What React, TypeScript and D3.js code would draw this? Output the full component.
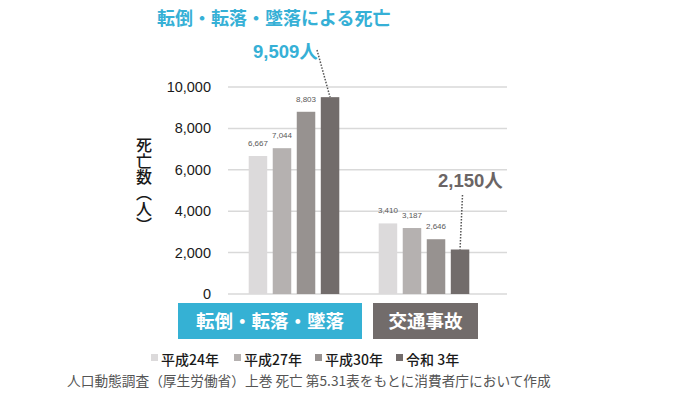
import React from 'react';
import * as d3 from 'd3';

const categories = ['転倒・転落・墜落', '交通事故'];
const years = ['平成24年', '平成27年', '平成30年', '令和 3年'];
const fallDeaths = [6667, 7044, 8803, 9509];
const trafficDeaths = [3410, 3187, 2646, 2150];
const yTicks = [0, 2000, 4000, 6000, 8000, 10000];
const barColors = ['#dcdadb', '#b5b1b0', '#979290', '#726c6b'];
const boxColors = ['#35b1d4', '#726c6b'];

const FONT = '"Liberation Sans", Arial, "Noto Sans CJK JP", sans-serif';
const JP = '"Noto Sans CJK JP", "Liberation Sans", sans-serif';

const App = () => {
  const width = 681;
  const height = 399;
  const series = [fallDeaths, trafficDeaths];

  const y = d3.scaleLinear().domain([0, 10000]).range([294, 87]);
  const x0 = d3.scaleBand().domain(categories).range([229, 489]);
  const x1 = d3.scaleBand()
    .domain(years)
    .range([0, x0.bandwidth()])
    .paddingInner(0.23)
    .paddingOuter(0.82);
  const fmt = d3.format(',');

  const barCx = (ci: number, yi: number) =>
    (x0(categories[ci]) as number) + (x1(years[yi]) as number) + x1.bandwidth() / 2;

  const lastIdx = years.length - 1;
  const callouts = [
    { ci: 0, text: fmt(fallDeaths[lastIdx]) + '人', tx: 253, ty: 58, lx: 317, ly: 50, color: '#36b0d6' },
    { ci: 1, text: fmt(trafficDeaths[lastIdx]) + '人', tx: 438, ty: 187, lx: 462.5, ly: 195, color: '#6b6565' },
  ];

  const legendX = [151, 234, 315, 396];

  return (
    <svg width={width} height={height} style={{ position: 'absolute', left: 0, top: 0, background: '#fff' }}>
      <text x={157} y={25} fill="#36b0d6" fontSize={18} fontWeight="bold" fontFamily={JP}>
        転倒・転落・墜落による死亡
      </text>

      {yTicks.map(t => (
        <g key={t}>
          <line x1={228} x2={507} y1={y(t)} y2={y(t)} stroke="#d9d9d9" strokeWidth={1.5} />
          <text x={211} y={y(t)} dy="0.35em" textAnchor="end" fontSize={14.5} fill="#1a1a1a" fontFamily={FONT}>
            {fmt(t)}
          </text>
        </g>
      ))}

      <text
        x={144}
        y={137}
        fontSize={16}
        fill="#1a1a1a"
        fontFamily={JP}
        fontWeight={500}
        style={{ writingMode: 'vertical-rl' } as any}
      >
        死亡数（人）
      </text>

      {series.map((vals, ci) => (
        <g key={ci}>
          {vals.map((v, yi) => {
            const bx = (x0(categories[ci]) as number) + (x1(years[yi]) as number);
            return (
              <g key={yi}>
                <rect x={bx} y={y(v)} width={x1.bandwidth()} height={y(0) - y(v)} fill={barColors[yi]} />
                {yi < lastIdx && (
                  <text
                    x={bx + x1.bandwidth() / 2}
                    y={y(v) - 10}
                    textAnchor="middle"
                    fontSize={8}
                    fill="#595959"
                    fontFamily={FONT}
                  >
                    {fmt(v)}
                  </text>
                )}
              </g>
            );
          })}
        </g>
      ))}

      {callouts.map((c, i) => (
        <g key={i}>
          <line
            x1={c.lx}
            y1={c.ly}
            x2={barCx(c.ci, lastIdx)}
            y2={y(series[c.ci][lastIdx])}
            stroke="#555"
            strokeWidth={1.5}
            strokeDasharray="1.5,1.5"
          />
          <text x={c.tx} y={c.ty} fill={c.color} fontSize={18.5} fontWeight="bold" fontFamily={FONT}>
            {c.text}
          </text>
        </g>
      ))}

      <rect x={178} y={303} width={184} height={36} fill={boxColors[0]} />
      <rect x={373} y={303} width={105} height={36} fill={boxColors[1]} />
      {categories.map((c, i) => (
        <text
          key={c}
          x={i === 0 ? 270 : 425.5}
          y={327.5}
          textAnchor="middle"
          fill="#fff"
          fontSize={18.5}
          fontWeight="bold"
          fontFamily={JP}
        >
          {c}
        </text>
      ))}

      {years.map((yr, i) => (
        <g key={yr}>
          <rect x={legendX[i]} y={354} width={7} height={7} fill={barColors[i]} />
          <text x={legendX[i] + 10} y={365} fontSize={14} fontWeight={500} fill="#1a1a1a" fontFamily={JP}>
            {yr}
          </text>
        </g>
      ))}

      <text x={67} y={386} fontSize={13.7} fill="#555" fontFamily={JP}>
        人口動態調査（厚生労働省）上巻 死亡 第5.31表をもとに消費者庁において作成
      </text>
    </svg>
  );
};

export default App;
